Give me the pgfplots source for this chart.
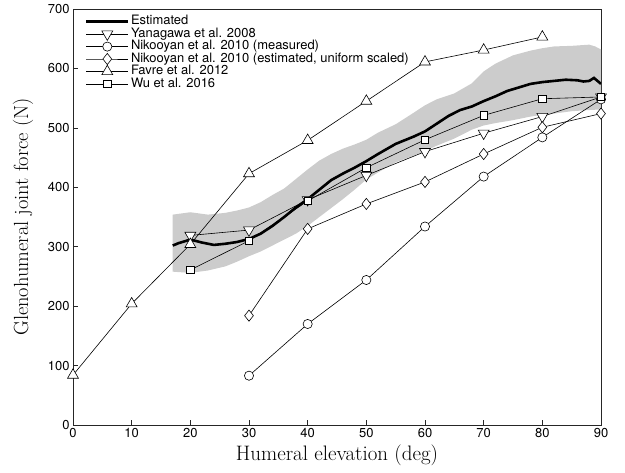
\documentclass[border=0pt]{standalone}
\usepackage{fontspec}
\usepackage{pgfplots}
\pgfplotsset{compat=1.18}
\newfontfamily\hv{TeX Gyre Heros}
\definecolor{band}{RGB}{204,204,204}
\pgfdeclareplotmark{wdiamond}{%
  \pgfpathmoveto{\pgfqpoint{0bp}{5.6bp}}%
  \pgfpathlineto{\pgfqpoint{4.4bp}{0bp}}%
  \pgfpathlineto{\pgfqpoint{0bp}{-5.6bp}}%
  \pgfpathlineto{\pgfqpoint{-4.4bp}{0bp}}%
  \pgfpathclose
  \pgfusepathqfillstroke}
\begin{document}
\begin{tikzpicture}
\begin{axis}[name=ax, scale only axis, width=528bp, height=416bp,
  xmin=0, xmax=90, ymin=0, ymax=700,
  xtick={0,10,...,90}, ytick={0,100,...,700},
  tick align=inside, xtick pos=left, ytick pos=left, major tick length=5bp,
  tick style={black!85, line width=0.5bp},
  axis line style={black!85, line width=0.6bp},
  ticklabel style={font=\hv\fontsize{13}{15}\selectfont},
  /pgf/number format/assume math mode=true,
  xlabel={Humeral elevation (deg)}, ylabel={Glenohumeral joint force (N)},
  every axis x label/.style={at={(axis description cs:0.5,-0.072)}, anchor=center, font=\fontsize{21}{24}\selectfont},
  every axis y label/.style={at={(axis description cs:-0.0947,0.5)}, anchor=center, rotate=90, font=\fontsize{20.5}{24}\selectfont},
  legend cell align=left,
  legend image code/.code={\draw[mark repeat=2,mark phase=2] plot coordinates {(0bp,0bp) (21bp,0bp) (42bp,0bp)};},
  legend style={at={(rel axis cs:0,1)}, anchor=north west, xshift=12bp, yshift=-6.5bp,
    draw=none, fill=none, inner sep=0pt, outer sep=0pt, row sep=0pt, column sep=1bp,
    font=\hv\fontsize{13}{15}\selectfont,
    nodes={inner sep=0.4bp, text height=9bp, text depth=2.6bp}},
]
% shaded band
\addplot[fill=band, draw=none, forget plot] coordinates {
(17,354)(20,358)(23,354)(26,357)(28,361)(30,366)(32,375)(34,387)(36,398)(38,414)(40,430)(42,445)(44,456)(46,465)(48,472)(50,480)(52,492)(55,506)(58,525)(60,538)(62,548)(65,558)(68,575)(70,595)(72,608)(75,622)(78,630)(80,634)(82,637)(85,638)(88,640)(89,637)(90,632)
(90,531)(88,530)(85,528)(82,524)(80,522)(78,519)(75,513)(72,508)(70,504)(68,497)(65,482)(62,470)(60,461)(58,453)(55,442)(52,425)(50,413)(48,396)(46,380)(44,365)(42,350)(40,335)(38,322)(36,312)(34,302)(32,292)(30,284)(28,275)(26,267)(23,260)(20,256)(17,258)
} -- cycle;
% estimated
\addplot[black, line width=2.6bp] coordinates {
(17,302)(18,306)(20,312)(22,307)(24,303)(26,305)(28,308)(30,313)(32,322)(34,335)(36,350)(38,366)(40,380)(42,396)(44,412)(46,423)(48,433)(50,444)(52,456)(55,473)(58,485)(60,494)(62,507)(64,520)(66,530)(68,536)(70,545)(72,553)(74,562)(76,568)(78,574)(80,577)(82,579)(84,581)(86,580)(87,578)(88,579)(88.8,584)(90,574)
};
\addlegendentry{Estimated}
% Yanagawa
\addplot[black, line width=0.6bp, mark=triangle*, mark size=6.3bp, mark options={fill=white, rotate=180}] coordinates {
(20,319)(30,328)(40,379)(50,420)(60,460)(70,491)(80,519)(90,552)
};
\addlegendentry{Yanagawa et al. 2008}
% Nikooyan measured
\addplot[black, line width=0.6bp, mark=*, mark size=4.6bp, mark options={fill=white}] coordinates {
(30,83)(40,170)(50,244)(60,334)(70,418)(80,484)(90,548)
};
\addlegendentry{Nikooyan et al. 2010 (measured)}
% Nikooyan estimated
\addplot[black, line width=0.6bp, mark=wdiamond, mark options={fill=white}] coordinates {
(30,184)(40,330)(50,372)(60,409)(70,456)(80,501)(90,524)
};
\addlegendentry{Nikooyan et al. 2010 (estimated, uniform scaled)}
% Favre
\addplot[black, line width=0.6bp, mark=triangle*, mark size=6.3bp, mark options={fill=white}] coordinates {
(0,84)(10,204)(20,304)(30,423)(40,479)(50,545)(60,611)(70,631)(80,653)
};
\addlegendentry{Favre et al. 2012}
% Wu
\addplot[black, line width=0.6bp, mark=square*, mark size=3.7bp, mark options={fill=white}] coordinates {
(20,261)(30,310)(40,377)(50,433)(60,480)(70,521)(80,549)(90,552)
};
\addlegendentry{Wu et al. 2016}
\end{axis}
\pgfresetboundingbox
\path[use as bounding box] ([shift={(-73bp,-47bp)}]ax.south west) rectangle ([shift={(24bp,9bp)}]ax.north east);
\end{tikzpicture}
\end{document}
